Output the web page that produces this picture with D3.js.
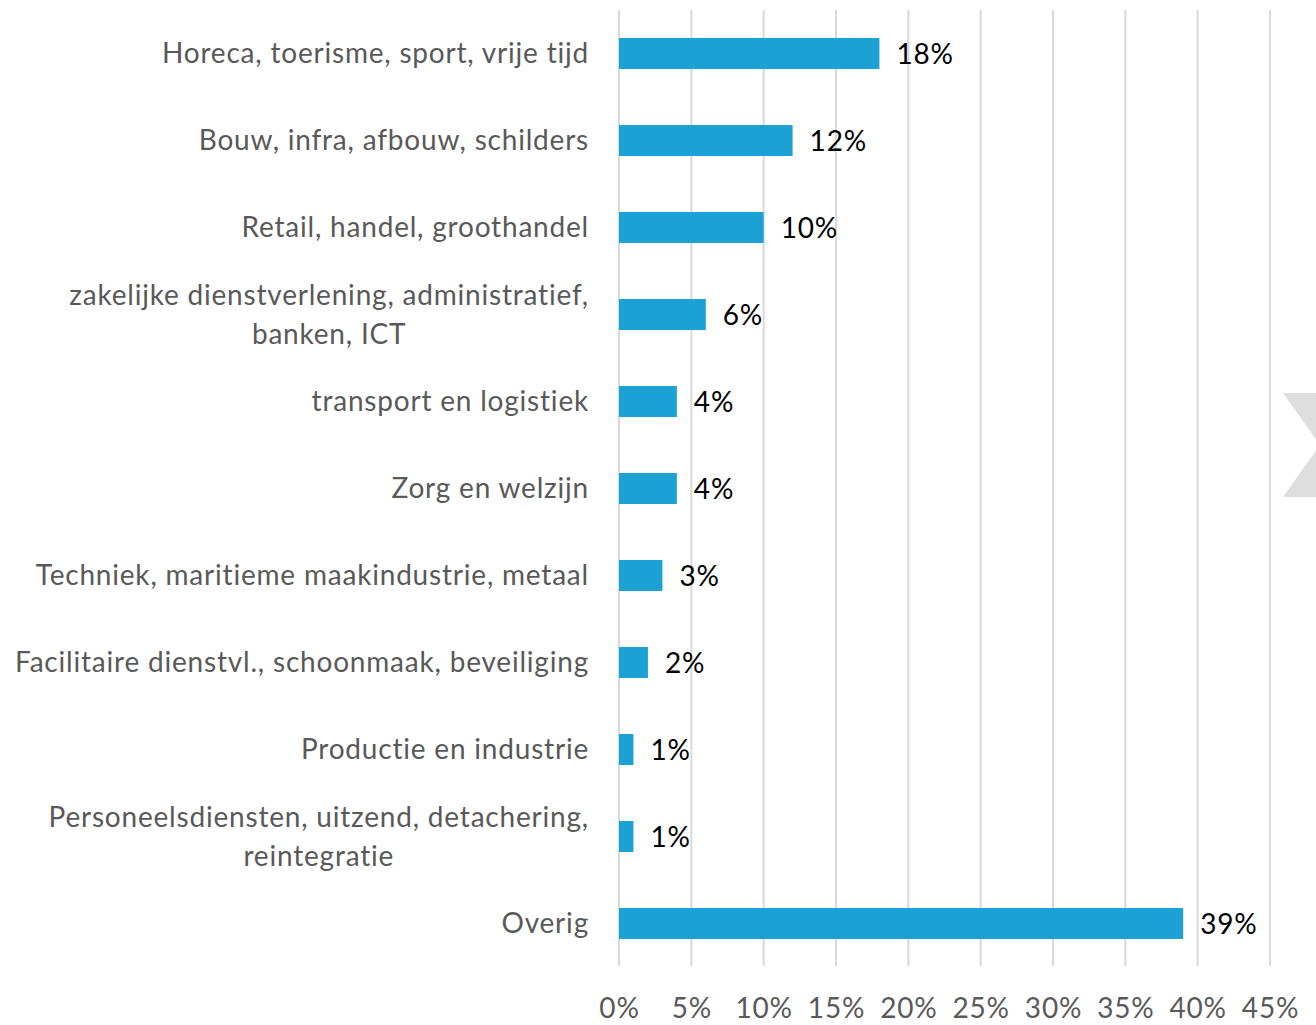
<!DOCTYPE html>
<html>
<head>
<meta charset="utf-8">
<script src="https://cdn.jsdelivr.net/npm/d3@7"></script>
<style>
  html, body { margin: 0; padding: 0; background: #ffffff; }
  svg { display: block; }
  text { font-family: Lato, "Open Sans", sans-serif; }
</style>
</head>
<body>
<svg id="chart" width="1316" height="1025"></svg>
<script>
// Sectors (each label split into its display lines)
const categories = [
  ["Horeca, toerisme, sport, vrije tijd"],
  ["Bouw, infra, afbouw, schilders"],
  ["Retail, handel, groothandel"],
  ["zakelijke dienstverlening, administratief,", "banken, ICT"],
  ["transport en logistiek"],
  ["Zorg en welzijn"],
  ["Techniek, maritieme maakindustrie, metaal"],
  ["Facilitaire dienstvl., schoonmaak, beveiliging"],
  ["Productie en industrie"],
  ["Personeelsdiensten, uitzend, detachering,", "reintegratie"],
  ["Overig"]
];
// Share per sector (percent)
const values = [18, 12, 10, 6, 4, 4, 3, 2, 1, 1, 39];
// Axis ticks (percent)
const tickValues = [0, 5, 10, 15, 20, 25, 30, 35, 40, 45];

const svg = d3.select("#chart");
const plotLeft = 619, plotRight = 1270, plotTop = 10, plotBottom = 967;
const fontSize = 28, spacing = "0.8px";

const x = d3.scaleLinear().domain([0, 45]).range([plotLeft, plotRight]);
const y = d3.scaleBand()
  .domain(d3.range(categories.length))
  .range([plotTop, plotBottom])
  .paddingInner(0.644)
  .paddingOuter(0.322);

// decorative chevron at the right edge
svg.append("polygon")
  .attr("points", "1283,393 1340,393 1380,445 1340,497 1283,497 1320,445")
  .attr("fill", "#dedede");

// vertical gridlines
svg.append("g")
  .selectAll("line")
  .data(tickValues)
  .join("line")
  .attr("x1", d => x(d)).attr("x2", d => x(d))
  .attr("y1", plotTop).attr("y2", 966)
  .attr("stroke", "#d9d9d9")
  .attr("stroke-width", 2);

// x axis tick labels
const xAxis = d3.axisBottom(x).tickValues(tickValues).tickFormat(d => d + "%").tickSize(0).tickPadding(0);
const gx = svg.append("g").attr("transform", "translate(0,998)").call(xAxis);
gx.select(".domain").remove();
gx.selectAll("text")
  .attr("fill", "#595959")
  .attr("font-size", fontSize)
  .attr("letter-spacing", spacing)
  .attr("font-family", "Lato, sans-serif");

// bars
svg.append("g")
  .selectAll("rect")
  .data(values)
  .join("rect")
  .attr("x", x(0))
  .attr("y", (d, i) => y(i))
  .attr("width", d => x(d) - x(0))
  .attr("height", y.bandwidth())
  .attr("fill", "#1ba1d3");

// value labels
svg.append("g")
  .selectAll("text")
  .data(values)
  .join("text")
  .attr("x", d => x(d) + 17)
  .attr("y", (d, i) => y(i) + y.bandwidth() / 2 + 1)
  .attr("dy", "0.35em")
  .attr("fill", "#000000")
  .attr("font-size", fontSize)
  .attr("letter-spacing", spacing)
  .text(d => d + "%");

// category labels, block right-aligned, lines centred within the block
const labelRight = 589, lineGap = 39;
const lg = svg.append("g");
categories.forEach((lines, i) => {
  const cy = y(i) + y.bandwidth() / 2;
  const g = lg.append("g");
  const texts = lines.map((ln, k) =>
    g.append("text")
      .attr("y", cy + (k - (lines.length - 1) / 2) * lineGap)
      .attr("dy", "0.35em")
      .attr("fill", "#595959")
      .attr("font-size", fontSize)
      .attr("letter-spacing", spacing)
      .text(ln));
  const maxW = d3.max(texts, t => t.node().getComputedTextLength());
  texts.forEach(t => t.attr("x", labelRight - maxW / 2).attr("text-anchor", "middle"));
});
</script>
</body>
</html>
